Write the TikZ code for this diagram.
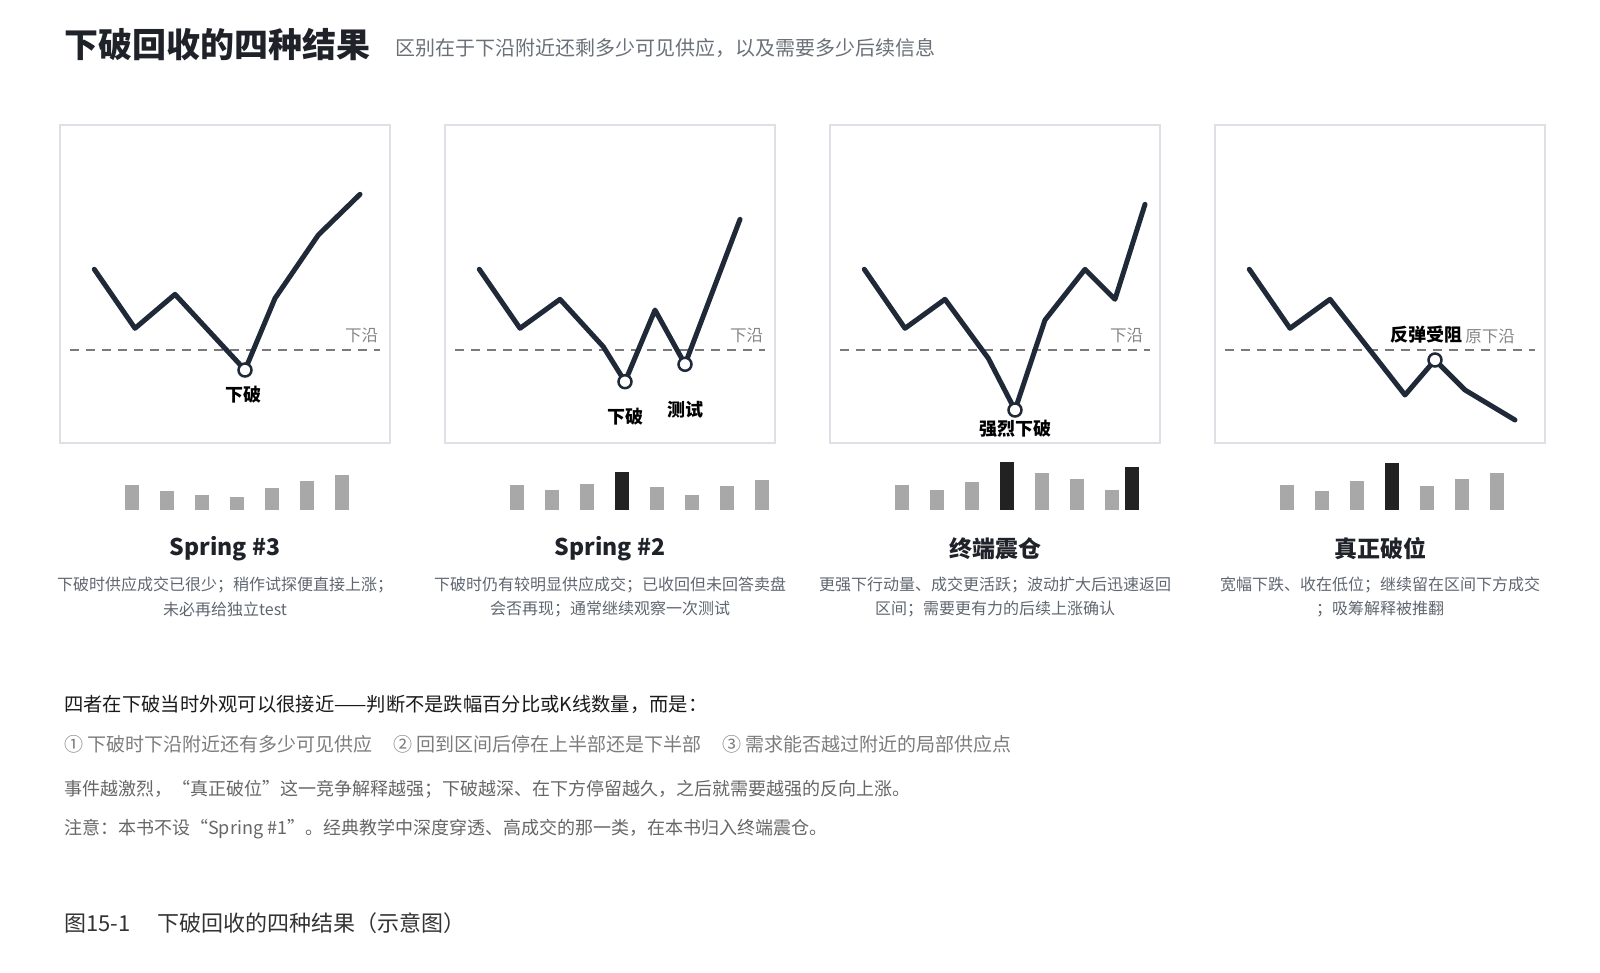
\documentclass[tikz,border=0pt]{standalone}
\usepackage{fontspec}
\setmainfont{Noto Sans CJK SC}
\definecolor{titlec}{HTML}{1F2329}
\definecolor{subc}{HTML}{6B7078}
\definecolor{linec}{HTML}{1F2937}
\definecolor{dashc}{HTML}{7A7A7A}
\definecolor{edgetxt}{HTML}{858585}
\definecolor{borderc}{HTML}{DDE0E4}
\definecolor{barg}{HTML}{A8A8A8}
\definecolor{bard}{HTML}{222222}
\definecolor{descc}{HTML}{5F6670}
\definecolor{bodyc}{HTML}{1A1A1A}
\definecolor{body2c}{HTML}{7C7C7C}
\definecolor{body3c}{HTML}{666666}
\definecolor{capc}{HTML}{333333}
\tikzset{
  price/.style={line width=5pt, draw=linec, line join=round, line cap=round},
  edgeline/.style={dash pattern=on 9pt off 7pt, line width=2pt, draw=dashc},
  ptmark/.style={circle, draw=linec, fill=white, line width=2.5pt, minimum size=13pt, inner sep=0pt},
  panelbox/.style={draw=borderc, line width=1.5pt},
  ptlbl/.style={font=\bfseries\fontsize{18}{20}\selectfont, text=black, inner sep=0pt},
  edgelbl/.style={font=\fontsize{16.5}{18}\selectfont, text=edgetxt, inner sep=0pt},
  gbar/.style={fill=barg, draw=none},
  dbar/.style={fill=bard, draw=none},
  ptitle/.style={font=\bfseries\fontsize{23}{26}\selectfont, text=titlec, inner sep=0pt},
  pdesc/.style={font=\fontsize{16}{18}\selectfont, text=descc, inner sep=0pt},
  bodytxt/.style={anchor=west, inner sep=0pt}
}
\newcommand{\vbar}[3]{\fill[#1] ({#2-7},385) rectangle ({#2+7},{385-#3});}
\begin{document}
\begin{tikzpicture}[x=1pt,y=-1pt]
\useasboundingbox (0,0) rectangle (1600,972);

% Header
\node[bodytxt, font=\bfseries\fontsize{34}{40}\selectfont, text=titlec] (title) at (64,45) {下破回收的四种结果};
\node[bodytxt, font=\fontsize{20}{24}\selectfont, text=subc] (subtitle) at (395,48) {区别在于下沿附近还剩多少可见供应，以及需要多少后续信息};

% Panel 1
\begin{scope}[shift={(60,125)}]
  \draw[panelbox] (0,0) rectangle (330,318);
  \coordinate (e1l) at (10,225); \coordinate (e1r) at (320,225);
  \draw[edgeline] (e1l) -- (e1r);
  \node[edgelbl] (e1t) at (301.7,210) {下沿};
  \coordinate (a1) at (34.3,144.3); \coordinate (a2) at (75,203.3);
  \coordinate (a3) at (115,169.3); \coordinate (a4) at (185,245);
  \coordinate (a5) at (215,173.3); \coordinate (a6) at (258.3,110);
  \coordinate (a7) at (300,69.3);
  \draw[price] (a1) -- (a2) -- (a3) -- (a4) -- (a5) -- (a6) -- (a7);
  \node[ptmark] (m1) at (a4) {};
  \node[ptlbl] (l1) at (183.3,270) {下破};
  \vbar{gbar}{72}{25} \vbar{gbar}{107}{19} \vbar{gbar}{142}{15} \vbar{gbar}{177}{13}
  \vbar{gbar}{212}{22} \vbar{gbar}{247}{29} \vbar{gbar}{282}{35}
  \node[ptitle] (t1) at (165,424) {Spring \#3};
  \node[pdesc] (d1a) at (165,460) {下破时供应成交已很少；稍作试探便直接上涨；};
  \node[pdesc] (d1b) at (165,484.5) {未必再给独立test};
\end{scope}

% Panel 2
\begin{scope}[shift={(445,125)}]
  \draw[panelbox] (0,0) rectangle (330,318);
  \coordinate (e2l) at (10,225); \coordinate (e2r) at (320,225);
  \draw[edgeline] (e2l) -- (e2r);
  \node[edgelbl] (e2t) at (301.7,210) {下沿};
  \coordinate (b1) at (34.3,144.3); \coordinate (b2) at (75,203.3);
  \coordinate (b3) at (115,174.3); \coordinate (b4) at (158.3,221.7);
  \coordinate (b5) at (180,256.7); \coordinate (b6) at (210,185);
  \coordinate (b7) at (240,239.3); \coordinate (b8) at (295,94.3);
  \draw[price] (b1) -- (b2) -- (b3) -- (b4) -- (b5) -- (b6) -- (b7) -- (b8);
  \node[ptmark] (m2a) at (b5) {};
  \node[ptmark] (m2b) at (b7) {};
  \node[ptlbl] (l2a) at (180,291.7) {下破};
  \node[ptlbl] (l2b) at (240,285) {测试};
  \vbar{gbar}{72}{25} \vbar{gbar}{107}{20} \vbar{gbar}{142}{26} \vbar{dbar}{177}{38}
  \vbar{gbar}{212}{23} \vbar{gbar}{247}{15} \vbar{gbar}{282}{24} \vbar{gbar}{317}{30}
  \node[ptitle] (t2) at (165,424) {Spring \#2};
  \node[pdesc] (d2a) at (165,460) {下破时仍有较明显供应成交；已收回但未回答卖盘};
  \node[pdesc] (d2b) at (165,484.5) {会否再现；通常继续观察一次测试};
\end{scope}

% Panel 3
\begin{scope}[shift={(830,125)}]
  \draw[panelbox] (0,0) rectangle (330,318);
  \coordinate (e3l) at (10,225); \coordinate (e3r) at (320,225);
  \draw[edgeline] (e3l) -- (e3r);
  \node[edgelbl] (e3t) at (296.7,210) {下沿};
  \coordinate (c1) at (34.3,144.3); \coordinate (c2) at (75,203.3);
  \coordinate (c3) at (115,174.3); \coordinate (c4) at (158.3,233.3);
  \coordinate (c5) at (185,285); \coordinate (c6) at (215,195);
  \coordinate (c7) at (255,144.3); \coordinate (c8) at (285,174.3);
  \coordinate (c9) at (315,79.3);
  \draw[price] (c1) -- (c2) -- (c3) -- (c4) -- (c5) -- (c6) -- (c7) -- (c8) -- (c9);
  \node[ptmark] (m3) at (c5) {};
  \node[ptlbl] (l3) at (185,303.3) {强烈下破};
  \vbar{gbar}{72}{25} \vbar{gbar}{107}{20} \vbar{gbar}{142}{28} \vbar{dbar}{177}{48}
  \vbar{gbar}{212}{37} \vbar{gbar}{247}{31} \vbar{gbar}{282}{20} \vbar{dbar}{302}{43}
  \node[ptitle] (t3) at (165,424) {终端震仓};
  \node[pdesc] (d3a) at (165,460) {更强下行动量、成交更活跃；波动扩大后迅速返回};
  \node[pdesc] (d3b) at (165,484.5) {区间；需要更有力的后续上涨确认};
\end{scope}

% Panel 4
\begin{scope}[shift={(1215,125)}]
  \draw[panelbox] (0,0) rectangle (330,318);
  \coordinate (e4l) at (10,225); \coordinate (e4r) at (320,225);
  \draw[edgeline] (e4l) -- (e4r);
  \node[edgelbl] (e4t) at (275,211) {原下沿};
  \coordinate (f1) at (34.3,144.3); \coordinate (f2) at (75,203.3);
  \coordinate (f3) at (115,174.3); \coordinate (f4) at (190,270);
  \coordinate (f5) at (220,235); \coordinate (f6) at (250,265);
  \coordinate (f7) at (300,295);
  \draw[price] (f1) -- (f2) -- (f3) -- (f4) -- (f5) -- (f6) -- (f7);
  \node[ptmark] (m4) at (f5) {};
  \node[ptlbl] (l4) at (211.7,210) {反弹受阻};
  \vbar{gbar}{72}{25} \vbar{gbar}{107}{19} \vbar{gbar}{142}{29} \vbar{dbar}{177}{47}
  \vbar{gbar}{212}{24} \vbar{gbar}{247}{31} \vbar{gbar}{282}{37}
  \node[ptitle] (t4) at (165,424) {真正破位};
  \node[pdesc] (d4a) at (165,460) {宽幅下跌、收在低位；继续留在区间下方成交};
  \node[pdesc] (d4b) at (165,484.5) {；吸筹解释被推翻};
\end{scope}

% Body text
\node[bodytxt, font=\fontsize{19.3}{22}\selectfont, text=bodyc] (p1) at (64,704) {四者在下破当时外观可以很接近——判断不是跌幅百分比或K线数量，而是：};
\node[bodytxt, font=\fontsize{19}{22}\selectfont, text=body2c] (p2) at (64,744) {① 下破时下沿附近还有多少可见供应\hspace{21pt}② 回到区间后停在上半部还是下半部\hspace{21pt}③ 需求能否越过附近的局部供应点};
\node[bodytxt, font=\fontsize{18}{21}\selectfont, text=body3c] (p3) at (64,789) {事件越激烈，“真正破位”这一竞争解释越强；下破越深、在下方停留越久，之后就需要越强的反向上涨。};
\node[bodytxt, font=\fontsize{18}{21}\selectfont, text=body3c] (p4) at (64,829) {注意：本书不设“Spring \#1”。经典教学中深度穿透、高成交的那一类，在本书归入终端震仓。};
\node[bodytxt, font=\fontsize{22}{25}\selectfont, text=capc] (cap) at (64,923) {图15-1\hspace{27pt}下破回收的四种结果（示意图）};
\end{tikzpicture}
\end{document}
